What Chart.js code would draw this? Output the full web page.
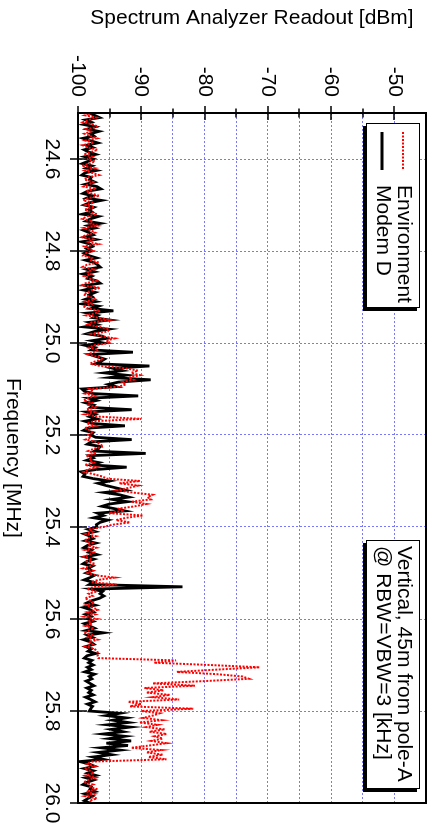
<!DOCTYPE html>
<html>
<head>
<meta charset="utf-8">
<script src="https://cdn.jsdelivr.net/npm/chart.js@4/dist/chart.umd.min.js"></script>
<style>
  html, body { margin: 0; padding: 0; background: #fff; overflow: hidden; }
  /* the plot is drawn landscape and turned a quarter clockwise */
  #wrap {
    position: absolute; left: 0; top: 0;
    width: 832px; height: 430px;
    transform-origin: 0 0;
    transform: translate(430px, 0) rotate(90deg);
  }
</style>
</head>
<body>
<div id="wrap"><canvas id="spectrum" width="832" height="430"></canvas></div>
<script>
// sweep: 24.5 .. 26.0 MHz, 301 points
const FREQ_START = 24.5;
const FREQ_STEP = 0.005;

const xTicks = [24.6, 24.8, 25.0, 25.2, 25.4, 25.6, 25.8, 26.0];
const yTicks = [-100, -95, -90, -85, -80, -75, -70, -65, -60, -55, -50];

const seriesNames = ['Environment', 'Modem D'];
const noteLines = ['Vertical, 45m from pole-A', '@ RBW=VBW=3 [kHz]'];

// dBm readings, one per sweep point
const environment = [
  -97.8, -98.9, -97.1, -98.3, -99.2, -97.6, -96.8, -98.7, -97.9, -99.0,
  -98.1, -97.0, -98.8, -97.5, -99.3, -98.4, -96.9, -98.0, -99.1, -97.7,
  -98.6, -97.3, -98.2, -99.4, -97.4, -98.9, -97.8, -96.7, -98.5, -99.0,
  -97.6, -98.3, -99.1, -97.2, -98.7, -97.9, -96.6, -98.4, -99.2, -97.5,
  -98.8, -97.4, -99.0, -98.1, -97.0, -98.6, -99.3, -97.7, -98.2, -96.9,
  -99.1, -98.0, -97.3, -98.7, -99.4, -97.6, -98.4, -96.8, -99.0, -98.3,
  -97.5, -98.9, -99.2, -97.8, -98.1, -96.7, -98.6, -99.3, -97.4, -98.5,
  -97.9, -99.0, -98.2, -97.1, -98.8, -99.4, -96.5, -97.7, -98.6, -99.1,
  -98.0, -97.3, -98.9, -97.6, -99.2, -98.4, -96.5, -97.2, -98.7, -96.9,
  -95.0, -97.8, -98.5, -96.6, -95.1, -95.3, -97.9, -96.4, -94.2, -95.6,
  -95.0, -97.5, -98.3, -96.8, -97.6, -98.4, -96.9, -96.0, -97.3, -98.1,
  -96.5, -92.5, -90.5, -91.6, -90.2, -92.0, -91.2, -93.0, -92.4, -93.6,
  -98.2, -97.6, -98.9, -97.3, -98.5, -99.1, -97.8, -98.3, -97.0, -98.7,
  -97.4, -98.9, -96.8, -90.0, -97.5, -98.6, -97.2, -99.0, -98.1, -97.6,
  -98.5, -97.9, -98.8, -97.2, -96.5, -96.0, -97.5, -98.4, -97.1, -98.7,
  -97.8, -98.2, -97.5, -98.9, -97.0, -98.4, -99.1, -97.6, -96.2, -95.4,
  -90.2, -93.5, -90.5, -92.0, -93.8, -91.4, -88.2, -89.0, -88.5, -91.6,
  -89.2, -91.0, -93.5, -93.0, -95.1, -89.7, -92.4, -94.0, -91.8, -94.5,
  -96.0, -98.3, -97.6, -98.8, -97.2, -98.5, -99.0, -97.7, -98.4, -97.1,
  -98.9, -97.5, -98.2, -99.1, -97.8, -98.6, -97.3, -98.0, -99.2, -97.6,
  -98.5, -97.2, -94.2, -96.8, -97.9, -93.9, -97.4, -98.6, -97.0, -98.3,
  -97.7, -98.9, -98.1, -97.4, -98.8, -97.6, -96.9, -98.5, -97.3, -99.0,
  -97.0, -98.4, -97.8, -98.9, -97.5, -98.2, -99.1, -97.6, -98.5, -96.9,
  -98.3, -97.7, -98.8, -97.4, -97.0, -96.8, -96.9, -96.8, -84.5, -88.0,
  -79.2, -71.3, -78.0, -84.4, -78.0, -74.0, -73.0, -80.0, -88.2, -81.5,
  -89.5, -86.5, -89.2, -85.5, -88.2, -84.0, -92.1, -90.0, -91.8, -81.8,
  -90.0, -87.1, -88.2, -89.7, -86.8, -90.3, -87.4, -89.2, -86.3, -88.7,
  -86.0, -87.9, -86.6, -88.4, -86.0, -88.7, -91.6, -86.8, -89.2, -86.6,
  -88.9, -86.0, -97.8, -98.6, -97.3, -99.0, -98.1, -97.5, -98.8, -97.2,
  -98.4, -99.1, -97.6, -98.3, -96.9, -98.7, -97.4, -98.9, -97.0, -98.2,
  -97.8
];

const modemD = [
  -98.2, -97.4, -96.6, -98.8, -97.9, -99.1, -97.3, -98.5, -96.7, -98.0,
  -97.5, -99.2, -98.1, -96.9, -98.6, -97.7, -99.0, -98.3, -97.2, -98.9,
  -97.6, -98.4, -99.3, -97.8, -98.7, -97.1, -98.9, -99.4, -97.9, -98.2,
  -97.4, -98.8, -97.0, -96.4, -98.5, -99.2, -97.7, -98.6, -96.3, -98.1,
  -99.0, -97.5, -98.3, -97.8, -99.3, -96.8, -98.0, -98.7, -96.5, -98.4,
  -97.3, -99.1, -98.2, -97.6, -98.9, -97.2, -99.4, -98.1, -97.7, -98.6,
  -97.9, -99.0, -98.3, -97.1, -98.8, -97.5, -96.9, -96.5, -98.6, -97.4,
  -99.2, -97.8, -98.4, -97.0, -96.5, -98.9, -97.6, -99.1, -97.3, -98.2,
  -97.7, -98.8, -97.2, -99.3, -96.8, -97.9, -94.4, -98.5, -96.9, -97.6,
  -95.0, -98.2, -97.0, -99.0, -95.2, -97.4, -98.6, -96.2, -95.5, -97.8,
  -96.0, -98.9, -97.3, -97.9, -91.3, -98.1, -97.0, -95.8, -96.4, -97.2,
  -88.7, -94.5, -93.0, -95.8, -92.4, -94.9, -88.5, -93.6, -95.2, -94.0,
  -99.4, -99.0, -97.6, -90.5, -98.3, -97.1, -98.8, -97.5, -98.0, -91.5,
  -98.6, -97.3, -98.2, -97.0, -98.9, -97.7, -92.6, -98.4, -99.1, -97.6,
  -98.0, -97.2, -91.5, -97.9, -98.5, -96.5, -96.8, -97.4, -89.3, -98.2,
  -97.6, -98.6, -96.7, -97.8, -92.3, -97.1, -99.5, -98.9, -99.2, -97.5,
  -95.0, -96.8, -95.5, -94.0, -92.5, -95.8, -93.4, -92.0, -94.6, -92.2,
  -95.0, -96.2, -94.3, -92.6, -96.9, -96.0, -97.5, -95.3, -96.5, -97.1,
  -97.0, -98.4, -97.3, -99.0, -98.1, -97.6, -98.8, -97.2, -98.5, -99.1,
  -97.8, -98.3, -97.0, -98.9, -97.5, -98.6, -99.2, -97.7, -98.4, -97.9,
  -98.7, -97.4, -98.1, -99.0, -97.6, -98.2, -83.5, -97.8, -96.1, -96.5,
  -95.9, -96.6, -97.8, -98.6, -97.3, -99.1, -98.0, -97.5, -98.8, -97.9,
  -98.4, -97.6, -99.0, -98.2, -97.4, -98.7, -96.0, -98.5, -97.7, -99.1,
  -98.0, -97.5, -98.8, -97.9, -98.4, -97.2, -98.6, -99.0, -97.8, -98.3,
  -97.6, -98.5, -97.9, -98.9, -97.4, -98.2, -97.8, -98.7, -98.1, -97.5,
  -98.6, -97.9, -98.3, -97.6, -98.8, -98.0, -97.3, -98.5, -97.7, -98.0,
  -98.2, -93.4, -95.5, -92.4, -94.5, -92.1, -95.3, -91.8, -94.7, -92.9,
  -96.0, -92.6, -95.0, -91.6, -95.5, -92.1, -96.3, -93.4, -96.8, -94.7,
  -97.6, -96.0, -99.7, -98.3, -97.4, -99.0, -97.6, -98.5, -97.2, -98.8,
  -97.5, -98.6, -99.2, -97.9, -98.1, -97.3, -98.9, -97.7, -98.4, -99.0,
  -98.2
];

const freqs = environment.map((_, i) => +(FREQ_START + FREQ_STEP * i).toFixed(3));
const toPoints = vals => vals.map((v, i) => ({ x: freqs[i], y: v }));

const FONT = "'Liberation Sans', Arial, Helvetica, sans-serif";
const GRID_BLUE = '#7878ff';

// white box with a solid drop shadow, like the plotting tool draws
function shadowBox(ctx, u, v, w, h) {
    ctx.fillStyle = '#000';
    ctx.fillRect(u + 3, v + 3, w, h);
    ctx.fillStyle = '#fff';
    ctx.fillRect(u, v, w, h);
    ctx.lineWidth = 1;
    ctx.strokeStyle = '#000';
    ctx.strokeRect(u + 0.5, v + 0.5, w - 1, h - 1);
}

const framePlugin = {
    id: 'frame',
    afterDatasetsDraw(chart) {
        const { ctx, chartArea: a, scales: { x, y } } = chart;
        ctx.save();
        ctx.setLineDash([]);

        // tick marks crossing the axes
        ctx.strokeStyle = '#000';
        ctx.lineWidth = 1.5;
        ctx.beginPath();
        xTicks.forEach(v => {
            const px = Math.round(x.getPixelForValue(v));
            ctx.moveTo(px, a.bottom - 9);
            ctx.lineTo(px, a.bottom + 8);
        });
        yTicks.forEach(v => {
            const py = Math.round(y.getPixelForValue(v));
            const len = v % 10 === 0 ? 7 : 4.5;
            ctx.moveTo(a.left - len, py);
            ctx.lineTo(a.left + len, py);
        });
        ctx.stroke();

        ctx.lineWidth = 2;
        ctx.strokeRect(a.left, a.top, a.right - a.left, a.bottom - a.top);

        ctx.font = '21px ' + FONT;
        ctx.textBaseline = 'middle';
        ctx.textAlign = 'left';

        // legend
        shadowBox(ctx, 123, 10, 185, 54);
        ctx.lineWidth = 2;
        ctx.strokeStyle = '#ff0000';
        ctx.setLineDash([2, 1.5]);
        ctx.beginPath();
        ctx.moveTo(132, 27);
        ctx.lineTo(170, 27);
        ctx.stroke();
        ctx.setLineDash([]);
        ctx.strokeStyle = '#000';
        ctx.lineWidth = 2.8;
        ctx.beginPath();
        ctx.moveTo(132, 48);
        ctx.lineTo(170, 48);
        ctx.stroke();
        ctx.fillStyle = '#000';
        ctx.fillText(seriesNames[0], 185, 26);
        ctx.fillText(seriesNames[1], 185, 47);

        // measurement note
        shadowBox(ctx, 540, 10, 249, 54);
        ctx.fillStyle = '#000';
        ctx.fillText(noteLines[0], 546, 26);
        ctx.fillText(noteLines[1], 546, 47);

        ctx.restore();
    }
};

new Chart(document.getElementById('spectrum'), {
    type: 'line',
    data: {
        datasets: [{
            label: seriesNames[0],
            data: toPoints(environment),
            borderColor: '#ff0000',
            borderWidth: 2,
            borderDash: [2, 1.5],
            pointRadius: 0,
            tension: 0
        }, {
            label: seriesNames[1],
            data: toPoints(modemD),
            borderColor: '#000000',
            borderWidth: 2.8,
            pointRadius: 0,
            tension: 0
        }]
    },
    options: {
        responsive: false,
        animation: false,
        devicePixelRatio: 1,
        layout: { padding: { top: 4, right: 29, left: 0, bottom: 0 } },
        plugins: {
            legend: { display: false },
            tooltip: { enabled: false }
        },
        scales: {
            x: {
                type: 'linear',
                min: 24.5,
                max: 26.0,
                afterBuildTicks: s => { s.ticks = xTicks.map(v => ({ value: v })); },
                afterFit: s => {
                    s.height = 78;
                    s.paddingLeft = 0;
                    s.paddingRight = 0;
                },
                ticks: {
                    autoSkip: false,
                    maxRotation: 0,
                    padding: 14,
                    color: '#000',
                    font: { family: FONT, size: 21 },
                    callback: v => Number(v).toFixed(1)
                },
                grid: { color: GRID_BLUE, lineWidth: 1, drawTicks: false },
                border: { display: false, dash: [2, 2] },
                title: {
                    display: true,
                    text: 'Frequency [MHz]',
                    color: '#000',
                    font: { family: FONT, size: 21 },
                    padding: { top: 0, bottom: 0 }
                }
            },
            y: {
                min: -100,
                max: -45,
                afterBuildTicks: s => { s.ticks = yTicks.map(v => ({ value: v })); },
                afterFit: s => {
                    s.width = 113;
                    s.paddingTop = 0;
                    s.paddingBottom = 0;
                },
                ticks: {
                    autoSkip: false,
                    padding: 16,
                    color: '#000',
                    font: { family: FONT, size: 21 },
                    callback: v => (v % 10 === 0 ? String(v) : '')
                },
                grid: { color: GRID_BLUE, lineWidth: 1, drawTicks: false },
                border: { display: false, dash: [2, 2] },
                title: {
                    display: true,
                    text: 'Spectrum Analyzer Readout [dBm]',
                    color: '#000',
                    font: { family: FONT, size: 21 },
                    padding: { top: 6, bottom: 0 }
                }
            }
        }
    },
    plugins: [framePlugin]
});
</script>
</body>
</html>
